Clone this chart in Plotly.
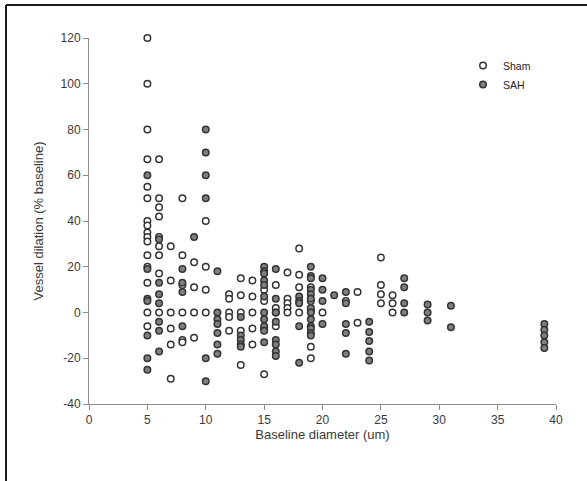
import plotly.graph_objects as go

# ---- data ----
sham_x = ([5]*16 + [6]*9 + [7]*6 + [8]*6 + [9]*4 + [10]*4 + [12]*5 + [13]*5 +
          [14]*5 + [15]*4 + [16]*4 + [17]*5 + [18]*4 + [19]*5 + [20]*1 +
          [22]*1 + [23]*2 + [25]*4 + [26]*3)
sham_y = [120, 100, 80, 67, 55, 50, 40, 38, 35, 33, 31, 25, 20, 13, 0, -6,
          67, 50, 46, 42, 33, 29, 25, 17, 0,
          29, 14, 0, -7, -14, -29,
          50, 25, 12, 0, -12, -13,
          22, 11, 0, -11,
          40, 20, 10, 0,
          8, 6, 0, -2, -8,
          15, 7.5, 0, -8, -23,
          14, 7, 0, -7, -14,
          10, 5, -7, -27,
          12, 2, 0, -6,
          17.5, 6, 4, 2, 0,
          28, 16.5, 11, 0,
          11, 5, 1, -15, -20,
          0,
          5,
          9, -4.5,
          24, 12, 8, 4,
          7.5, 4, 0]

sah_x = ([5]*7 + [6]*7 + [8]*4 + [9]*1 + [10]*6 + [11]*7 + [13]*5 + [15]*11 +
         [16]*8 + [18]*5 + [19]*13 + [20]*4 + [21]*1 + [22]*5 + [24]*5 +
         [27]*4 + [29]*3 + [31]*2 + [39]*5)
sah_y = [60, 19, 6, 5, -10, -20, -25,
         32, 13, 8, 4, -4, -8, -17,
         19, 13, 9, -6,
         33,
         80, 70, 60, 50, -20, -30,
         18, 0, -3, -5, -9, -14, -18,
         -2, -10, -12, -14, -15,
         20, 18, 17, 14, 12, 7, 0, -3, -6, -8, -13,
         19, 6, 0, -4, -12, -14, -17, -19,
         7, 5, 4, -6, -22,
         20, 16, 15, 10, 8, 6, 2, 0, -3, -6, -7, -9, -10,
         15, 10, 5, -5,
         7.5,
         9, 4, -5, -9, -18,
         -4, -8.5, -12.5, -17, -21,
         15, 11, 4, 0,
         3.5, 0, -3.5,
         3, -6.5,
         -5, -7.5, -10, -13, -15.5]

x_ticks = [0, 5, 10, 15, 20, 25, 30, 35, 40]
x_ticktext = ["0", "5", "10", "15", "20", "25", "30", "35", "40"]
y_ticks = [-40, -20, 0, 20, 40, 60, 80, 100, 120]
y_ticktext = ["-40", "-20", "0", "20", "40", "60", "80", "100", "120"]

W, H = 587, 481
L, R, T, B = 89, 31, 38, 77
pw, ph = W - L - R, H - T - B

fig = go.Figure()
fig.add_trace(go.Scatter(x=sham_x, y=sham_y, mode="markers", name="Sham", cliponaxis=False,
                         marker=dict(size=6.5, color="white", symbol="circle",
                                     line=dict(color="#333333", width=1.5))))
fig.add_trace(go.Scatter(x=sah_x, y=sah_y, mode="markers", name="SAH", cliponaxis=False,
                         marker=dict(size=6.5, color="#7f7f7f", symbol="circle",
                                     line=dict(color="#333333", width=1.5))))

axis_common = dict(showgrid=False, zeroline=False, showline=True, linecolor="#8c8c8c",
                   linewidth=1, ticks="outside", ticklen=5, tickcolor="#8c8c8c",
                   tickfont=dict(size=12, color="#3a3a3a", family="Liberation Sans"))

fig.update_layout(
    width=W, height=H,
    margin=dict(l=L, r=R, t=T, b=B),
    paper_bgcolor="white", plot_bgcolor="white",
    font=dict(family="Liberation Sans", color="#3a3a3a"),
    xaxis=dict(range=[0, 40], tickvals=x_ticks, ticktext=x_ticktext, **axis_common,
               title=dict(text="Baseline diameter (um)", font=dict(size=13, color="#3a3a3a"),
                          standoff=2)),
    yaxis=dict(range=[-40, 120], tickvals=y_ticks, ticktext=y_ticktext, **axis_common,
               title=dict(text="Vessel dilation (% baseline)", font=dict(size=13, color="#3a3a3a"),
                          standoff=14)),
    legend=dict(x=(463 - L) / pw, y=(H - B - 51) / ph, xanchor="left", yanchor="top",
                font=dict(size=10.5, color="#222222", family="Liberation Sans"),
                bgcolor="rgba(0,0,0,0)", tracegroupgap=0, itemsizing="trace"),
    showlegend=True,
)

# frame lines (left and top) of the figure
lx = (6 - L) / pw
ty = (H - B - 5) / ph
rx = (W + 2 - L) / pw
fig.add_shape(type="line", xref="paper", yref="paper", x0=lx, x1=lx, y0=ty, y1=-0.3,
              line=dict(color="#1a1a1a", width=2))
fig.add_shape(type="line", xref="paper", yref="paper", x0=lx, x1=rx, y0=ty, y1=ty,
              line=dict(color="#1a1a1a", width=2))

fig.write_html("out.html", config={"displayModeBar": False},
               post_script="document.body.style.margin='0px';")
